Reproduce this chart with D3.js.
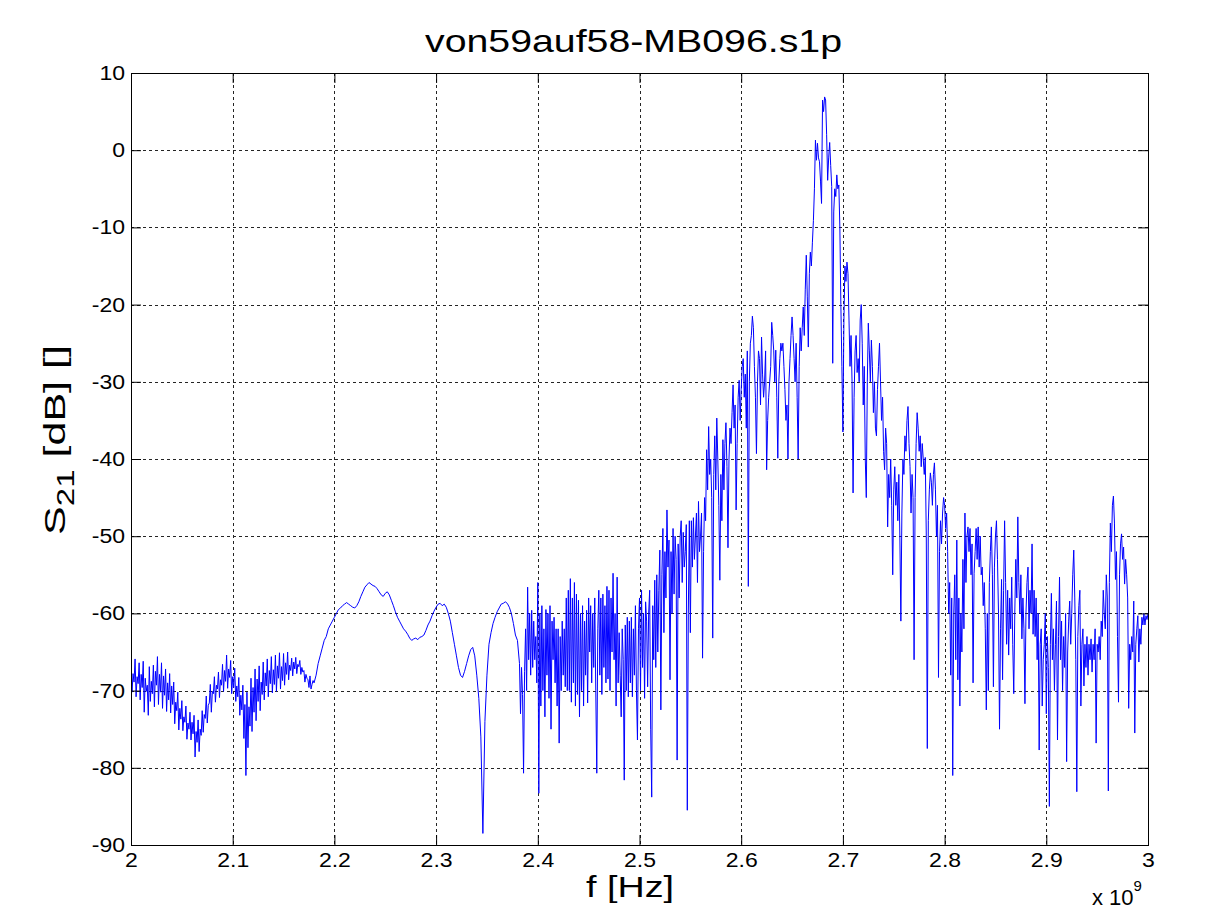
<!DOCTYPE html>
<html><head><meta charset="utf-8">
<script src="https://cdn.jsdelivr.net/npm/d3@7"></script>
<style>
body{margin:0;background:#fff;}
svg{display:block;}
text{font-family:"Liberation Sans",Arial,Helvetica,sans-serif;fill:#000;}
</style>
</head><body>
<svg id="chart" width="1207" height="923"></svg>
<script>
// ---------- data (frequency in GHz, S21 in dB) ----------
const chartTitle = "von59auf58-MB096.s1p";
const xTicks = [2, 2.1, 2.2, 2.3, 2.4, 2.5, 2.6, 2.7, 2.8, 2.9, 3];
const xTickLabels = ["2","2.1","2.2","2.3","2.4","2.5","2.6","2.7","2.8","2.9","3"];
const yTicks = [10, 0, -10, -20, -30, -40, -50, -60, -70, -80, -90];
const yTickLabels = ["10","0","-10","-20","-30","-40","-50","-60","-70","-80","-90"];

// segment A: 2.000 .. 2.179 GHz, 1 MHz sampling
const segAStart = 2.000, segAStep = 0.001;
const segAValues = [
 -66.5,-70.2,-67.8,-68.9,-65.9,-70.8,-68.2,-69.1,-66.4,-71.2,
 -67.9,-69.6,-66.2,-72.8,-68.4,-70.1,-69.3,-73.2,-66.9,-71.4,
 -68.8,-70.4,-66.7,-72.1,-67.5,-69.3,-65.6,-71.8,-67.9,-70.2,
 -66.4,-72.3,-68.1,-70.6,-67.2,-72.7,-69.0,-71.2,-67.8,-72.9,
 -69.4,-71.8,-68.9,-74.3,-71.5,-72.6,-70.2,-75.1,-72.3,-73.7,
 -71.3,-75.2,-73.4,-74.1,-72.0,-76.3,-74.2,-75.0,-72.8,-76.4,
 -74.1,-75.6,-73.2,-78.6,-75.3,-76.7,-73.8,-77.9,-75.0,-75.8,
 -72.6,-75.4,-73.1,-73.6,-70.7,-74.2,-71.9,-71.6,-69.2,-72.8,
 -70.1,-70.4,-68.2,-71.5,-69.3,-69.8,-67.6,-70.9,-68.6,-69.3,
 -66.6,-70.1,-67.4,-68.8,-65.4,-69.7,-67.2,-68.3,-66.1,-70.4,
 -68.2,-69.6,-67.1,-71.4,-69.4,-70.8,-68.3,-73.2,-70.6,-72.5,
 -69.3,-76.2,-71.8,-81,-70.2,-77.4,-72.1,-74.6,-68.4,-75.3,
 -69.6,-72.8,-67.2,-73.9,-68.5,-71.4,-66.8,-72.6,-68.9,-70.5,
 -66.3,-71.2,-67.7,-69.4,-65.9,-70.8,-67.4,-69.1,-65.6,-70.3,
 -67.3,-69.2,-65.4,-70.1,-66.8,-68.4,-65.1,-69.8,-66.9,-68.7,
 -65.2,-69.3,-66.4,-67.9,-65.0,-68.6,-66.7,-67.4,-65.8,-68.1,
 -66.3,-67.2,-65.7,-67.8,-66.6,-66.9,-66.1,-67.9,-67.0,-67.6,
 -67.4,-68.9,-67.9,-68.4,-68.6,-69.6,-68.1,-69.8,-69.2,-68.7
];

// segment B: 2.180 .. 2.378 GHz, 2 MHz sampling
const segBStart = 2.180, segBStep = 0.002;
const segBValues = [
 -69,-68,-66.5,-65.5,-64.5,-63.5,-63,-62,-61.5,-61,
 -60.5,-60,-59.5,-59.3,-59,-58.8,-58.6,-58.8,-59,-59.2,
 -59.3,-59,-58.5,-57.8,-57.2,-56.6,-56.3,-56,-56.2,-56.4,
 -56.5,-56.8,-57.2,-57.6,-57.8,-57.4,-57.2,-57.6,-58.3,-59,
 -59.8,-60.5,-61,-61.5,-62,-62.3,-62.7,-63.2,-63.5,-63.3,
 -63.2,-63.4,-63.1,-63,-62.8,-62.2,-61.5,-61,-60.3,-59.7,
 -59.2,-58.8,-58.7,-59,-58.8,-59.2,-60,-61,-62.5,-64,
 -65.5,-67,-68,-68.3,-67.5,-66.5,-65.5,-64.7,-64.4,-65.5,
 -68,-71,-76,-88.5,-74,-68,-64,-62.5,-61.3,-60.5,
 -59.8,-59.3,-58.8,-58.7,-58.5,-58.7,-59.2,-60,-61.3,-62.8
];

// segment C: 2.380 .. 3.000 GHz, 1 MHz sampling
const segCStart = 2.380, segCStep = 0.001;
const segCValues = [
 -63.5,-65,-66.5,-73,-67,-70.5,-80.7,-67.5,-62,-70,
 -56.6,-66,-60,-68,-59.6,-67,-61,-66,-63,-69,
 -56,-83.3,-60,-72,-59,-70,-62,-73.4,-59.5,-68,
 -60,-71,-59,-75,-61,-66,-60.5,-69,-62,-72,
 -62,-76.8,-63,-70,-61,-68,-62,-69.5,-58,-70,
 -57,-70,-55.5,-71.5,-58,-69,-56,-72,-57.5,-70.5,
 -58.3,-73.4,-60,-70,-59,-72,-61,-68,-59.6,-71.6,
 -58,-65,-59,-69,-60,-67,-58,-70,-80.7,-62,
 -57,-68,-58,-70.5,-57.5,-67,-59,-69,-56.5,-68.5,
 -57,-70,-58,-65,-54.8,-66,-60,-72,-55.3,-69,
 -62.5,-68,-73.4,-62,-66,-81.6,-61.5,-70,-60.5,-70.8,
 -61,-69,-60.5,-70.8,-62,-68,-59,-70,-76.4,-62,
 -58,-70,-57,-67,-60,-71,-58.5,-61,-69.5,-60,
 -57,-75,-83.8,-59,-66,-55.7,-67,-55,-65,-57,
 -51.8,-72.5,-55,-49,-62.5,-52,-58,-46.6,-54,-50.5,
 -68.6,-52,-60,-49,-57.5,-50,-53,-79,-51,-58,
 -50,-48,-56,-49.5,-54,-52,-48.5,-85.5,-60,-48,
 -62.5,-48,-54,-47.6,-53,-50,-47,-56,-45.5,-52,
 -50,-47,-65.8,-52,-45,-48,-38.8,-44,-35.8,-42,
 -40,-45,-63.2,-42,-37,-44,-34.7,-40,-46,-55.7,
 -42,-48,-37.5,-44,-38,-35.3,-41,-51.5,-40,-36,
 -38,-34,-30.4,-36,-33,-46.6,-38,-32,-29.8,-35,
 -31,-28,-27,-32,-29,-36,-26,-56.5,-30,-25,
 -24,-21.5,-23,-28,-32,-39.3,-30,-26,-27,-33,
 -24.2,-29,-32,-30,-26,-41.4,-35,-32,-30,-28,
 -22.3,-24,-26,-30,-25.9,-32,-39.9,-30,-27,-25,
 -26,-25,-28,-31,-35,-33,-40,-30,-27,-24,
 -21.6,-24,-27,-30,-25,-32,-40,-28,-23,-26,
 -23,-20.3,-24,-18,-13.6,-19,-25.5,-16,-13.2,-15,
 -12,-9.1,-5,1.3,-1.3,0.9,-1,-1.5,-4,-6.9,
 6.5,5,6.9,6.5,2,-3.9,-1,1,-2,-4.7,
 -27.6,-8,-5,-6,-3.2,-5,-4.5,-10,-20,-28,
 -36.5,-22,-15,-17,-14.5,-16,-22,-28,-24,-30,
 -44.4,-32,-26,-24,-28.8,-27,-30,-22,-20,-25,
 -33,-28,-40,-45,-30,-22.4,-26,-30,-24.6,-28,
 -34,-30,-36,-37,-31,-28,-25,-30,-35,-32,
 -39,-41.4,-36,-38,-48.8,-42,-45,-40,-46,-55,
 -44,-41,-46,-43,-48,-42,-50,-61,-47,-40,
 -42,-37,-39,-35,-33.2,-38,-41,-47,-42,-45,
 -66,-45,-38,-34,-36,-39,-37,-41,-38,-40,
 -42,-39.8,-50,-77.5,-48,-44,-41.8,-43,-46,-42,
 -40.5,-44,-50,-46,-68.3,-52,-48,-51,-47,-45,
 -46,-49,-47,-52,-60,-56,-68,-58,-81,-60,
 -55,-66,-50.5,-68.6,-58,-72,-60,-65,-53,-62,
 -47,-56,-50,-48.8,-52,-49,-55,-51,-69,-54.8,
 -52,-49,-53,-48.8,-54,-50,-55,-54,-59,-56,
 -62,-72.5,-60,-70,-56,-52,-48.8,-55,-69.5,-54,
 -50,-48,-53,-60,-75,-62,-55.6,-68.6,-57,-48,
 -56,-64,-57,-65.4,-58,-62,-55.3,-64,-70.4,-60,
 -53,-58,-47.5,-56,-60,-55,-63.3,-58,-62,-71.7,
 -60,-56,-54,-62,-57,-60,-51,-62.7,-57,-63,
 -58,-66,-60,-77.7,-64,-62,-72,-66,-64,-60,
 -73,-63,-67,-85,-64,-57.4,-66,-62,-70,-64,
 -58.4,-76.4,-63,-55.3,-66,-61,-70,-63,-67,-60,
 -79.2,-65,-61,-58.4,-64,-60,-55,-51.8,-58,-66,
 -83.1,-63,-59,-57,-72,-64,-62,-69.4,-64,-67,
 -63,-68,-64,-66,-63.3,-67.6,-64,-66,-62,-76.8,
 -64,-65,-63,-66,-61,-63,-57,-60,-62,-55,
 -58,-83,-56,-48.3,-52,-46,-44.8,-48.3,-55.6,-52,
 -63,-71.5,-55,-51,-49.7,-53,-51.4,-56.2,-53,-55,
 -58,-72.3,-64,-66,-63,-65,-58.4,-75.5,-64,-62,
 -60.3,-66.3,-62,-64,-60.5,-61.5,-60,-61.5,-60.3,-60.8,
 -60
];

// ---------- build trace ----------
const segments = [
  {start: segAStart, step: segAStep, values: segAValues},
  {start: segBStart, step: segBStep, values: segBValues},
  {start: segCStart, step: segCStep, values: segCValues}
];
const trace = [];
segments.forEach(s => s.values.forEach((v, i) => trace.push({f: s.start + i * s.step, v: v})));

// ---------- layout ----------
const L = 131, R = 1148, T = 73, B = 845;
const svg = d3.select("#chart");
svg.append("rect").attr("width",1207).attr("height",923).attr("fill","#fff");

const x = d3.scaleLinear().domain([2, 3]).range([L, R]);
const y = d3.scaleLinear().domain([-90, 10]).range([B, T]);

// grid
const grid = svg.append("g").attr("stroke","#000").attr("stroke-width",1).attr("stroke-dasharray","3,3").attr("opacity",0.85);
xTicks.slice(1,-1).forEach(t => grid.append("line")
  .attr("x1", Math.round(x(t))+0.5).attr("x2", Math.round(x(t))+0.5).attr("y1", T).attr("y2", B));
yTicks.slice(1,-1).forEach(t => grid.append("line")
  .attr("y1", Math.round(y(t))+0.5).attr("y2", Math.round(y(t))+0.5).attr("x1", L).attr("x2", R));

// data line
svg.append("clipPath").attr("id","clip").append("rect").attr("x",L).attr("y",T).attr("width",R-L).attr("height",B-T);
svg.append("path").datum(trace)
  .attr("clip-path","url(#clip)")
  .attr("fill","none").attr("stroke","#0000ff").attr("stroke-width",1)
  .attr("d", d3.line().x(d => x(d.f)).y(d => y(d.v)));

// axes (MATLAB-style inward ticks, box)
const fmtX = (d) => xTickLabels[xTicks.indexOf(d)];
const fmtY = (d) => yTickLabels[yTicks.indexOf(d)];
const gB = svg.append("g").attr("transform",`translate(0,${B})`)
  .call(d3.axisBottom(x).tickValues(xTicks).tickFormat(fmtX).tickSizeInner(-10).tickSizeOuter(0).tickPadding(8));
const gL = svg.append("g").attr("transform",`translate(${L},0)`)
  .call(d3.axisLeft(y).tickValues(yTicks).tickFormat(fmtY).tickSizeInner(-10).tickSizeOuter(0).tickPadding(6));
const gT = svg.append("g").attr("transform",`translate(0,${T})`)
  .call(d3.axisTop(x).tickValues(xTicks).tickFormat("").tickSizeInner(-10).tickSizeOuter(0));
const gR = svg.append("g").attr("transform",`translate(${R},0)`)
  .call(d3.axisRight(y).tickValues(yTicks).tickFormat("").tickSizeInner(-10).tickSizeOuter(0));
[gB,gL,gT,gR].forEach(g => {
  g.select(".domain").remove();
  g.selectAll(".tick line").attr("stroke","#000");
  g.selectAll("text").attr("font-size",20).attr("font-family",'"Liberation Sans",Arial,sans-serif').attr("fill","#000");
});
// slightly wider glyphs, as in the reference rendering
[gB,gL].forEach(g => g.selectAll("text").each(function(){
  const w = this.getComputedTextLength();
  if (w > 0) d3.select(this).attr("textLength", w*1.15).attr("lengthAdjust","spacingAndGlyphs");
}));
svg.append("rect").attr("x",L+0.5).attr("y",T+0.5).attr("width",R-L).attr("height",B-T)
  .attr("fill","none").attr("stroke","#000").attr("stroke-width",1);

// title
svg.append("text").attr("x",(425+842)/2).attr("y",52).attr("text-anchor","middle")
  .attr("font-size",32).attr("textLength",417).attr("lengthAdjust","spacingAndGlyphs").text(chartTitle);

// x label
svg.append("text").attr("x",630).attr("y",897).attr("text-anchor","middle")
  .attr("font-size",30).attr("textLength",88).attr("lengthAdjust","spacingAndGlyphs").text("f [Hz]");

// x exponent
const ex = svg.append("text").attr("x",1092).attr("y",905).attr("font-size",22);
ex.append("tspan").text("x 10");
ex.append("tspan").attr("dy",-14).attr("font-size",15).text("9");

// y label
const yl = svg.append("text").attr("text-anchor","middle").attr("font-size",30);
yl.append("tspan").text("S");
yl.append("tspan").attr("dy",9).attr("font-size",23).text("21");
yl.append("tspan").attr("dy",-9).text(" [dB] []");
const ylw = yl.node().getComputedTextLength();
yl.attr("transform",`translate(65,440) rotate(-90) scale(${190/ylw},1)`);
</script>
</body></html>
